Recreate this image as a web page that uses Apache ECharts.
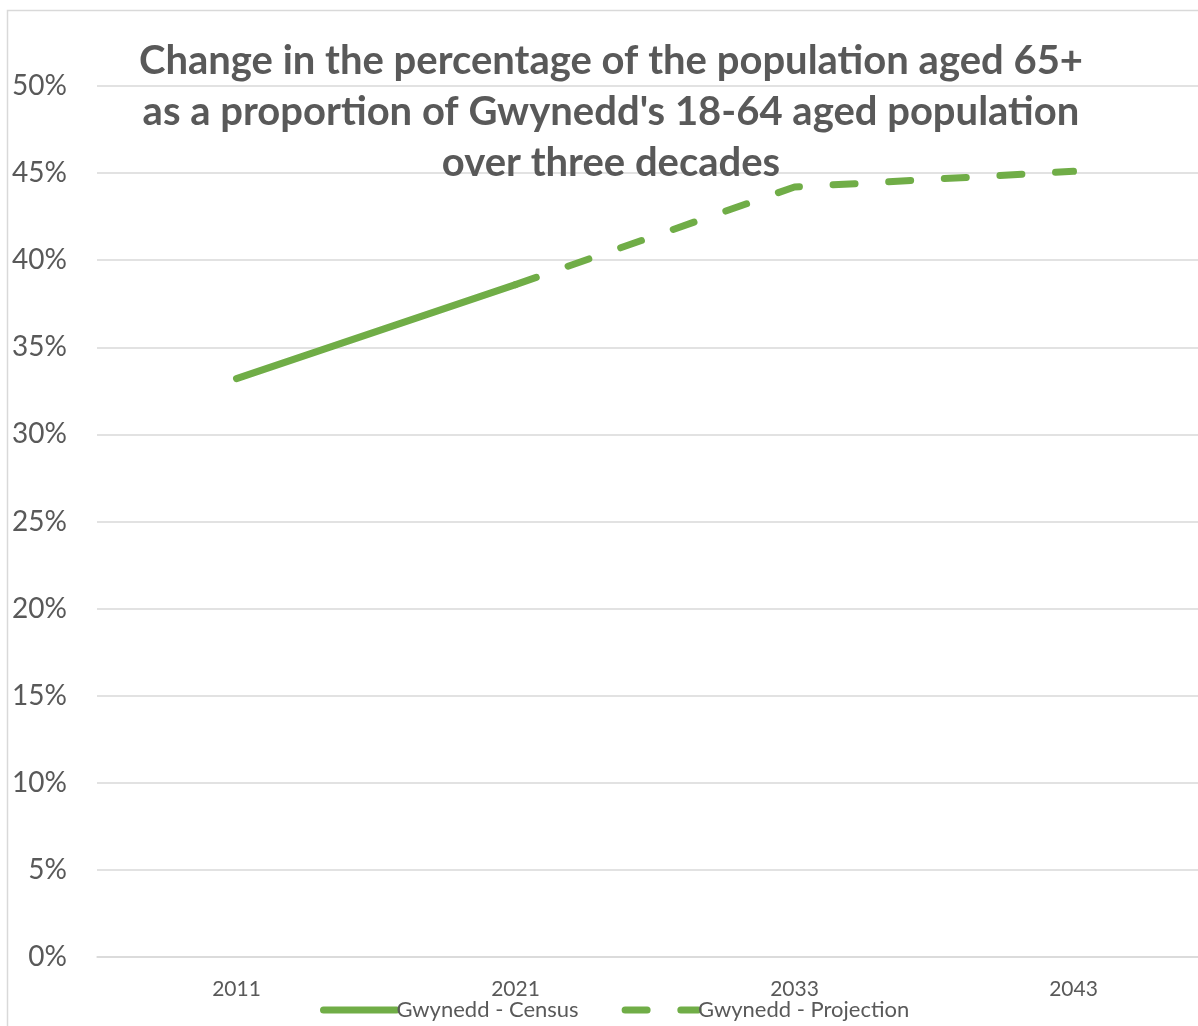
<!DOCTYPE html>
<html>
<head>
<meta charset="utf-8">
<style>
  html, body { margin: 0; padding: 0; background: #ffffff; }
  #chart { width: 1198px; height: 1026px; }
</style>
<script src="https://cdn.jsdelivr.net/npm/echarts@6/dist/echarts.min.js"></script>
</head>
<body>
<div id="chart"></div>
<script>
// Census years and projection years on the category axis
const categories = ['2011', '2021', '2033', '2043'];
// Population aged 65+ as % of the 18-64 population
const censusValues = [33.2, 38.6, null, null];
const projectionValues = [null, 38.6, 44.2, 45.1];
const seriesNames = ['Gwynedd - Census', 'Gwynedd - Projection'];
const titleText = "Change in the percentage of the population aged 65+\nas a proportion of Gwynedd's 18-64 aged population\nover three decades";

const GREEN = '#70AD47';
const TEXT = '#595959';
const FONT = 'Lato, "Open Sans", sans-serif';
const DASH = [22, 33.7];

const chart = echarts.init(document.getElementById('chart'), null, { renderer: 'canvas' });

chart.setOption({
  animation: false,
  backgroundColor: '#ffffff',
  textStyle: { fontFamily: FONT, color: TEXT },
  graphic: [{
    type: 'rect',
    z: -10,
    silent: true,
    shape: { x: 7.5, y: 10.5, width: 1400, height: 1200 },
    style: { fill: null, stroke: '#d9d9d9', lineWidth: 1.5 }
  }],
  title: {
    text: titleText,
    left: 606,
    top: 31,
    textAlign: 'center',
    textStyle: {
      fontFamily: FONT,
      fontSize: 40,
      fontWeight: 'bold',
      lineHeight: 51,
      color: TEXT
    }
  },
  legend: {
    left: 315,
    top: 994,
    itemWidth: 73,
    itemHeight: 14,
    itemGap: 43,
    // legend keys show only the line stroke (no marker)
    itemStyle: { opacity: 0, borderWidth: 0 },
    lineStyle: { width: 7, type: 'inherit', cap: 'round', color: GREEN, opacity: 1 },
    textStyle: { fontFamily: FONT, fontSize: 22, color: TEXT, padding: [0, 0, 0, -5] },
    data: seriesNames
  },
  grid: { left: 97, top: 86, right: -15, bottom: 69, outerBoundsMode: 'none' },
  xAxis: {
    type: 'category',
    data: categories,
    boundaryGap: true,
    axisLine: { show: true, lineStyle: { color: '#d9d9d9', width: 1.5 } },
    axisTick: { show: false },
    axisLabel: { fontFamily: FONT, fontSize: 21, color: TEXT, margin: 22 }
  },
  yAxis: {
    type: 'value',
    min: 0,
    max: 50,
    interval: 5,
    axisLine: { show: false },
    axisTick: { show: false },
    axisLabel: { fontFamily: FONT, fontSize: 28, color: TEXT, margin: 30, formatter: '{value}%' },
    splitLine: { lineStyle: { color: '#d9d9d9', width: 1.5 } }
  },
  series: [
    {
      name: seriesNames[0],
      type: 'line',
      data: censusValues,
      symbol: 'none',
      connectNulls: false,
      color: GREEN,
      lineStyle: { color: GREEN, width: 7, cap: 'round' }
    },
    {
      name: seriesNames[1],
      type: 'line',
      data: projectionValues,
      symbol: 'none',
      connectNulls: false,
      color: GREEN,
      lineStyle: { color: GREEN, width: 7, type: DASH, cap: 'round', join: 'round' }
    }
  ]
});
</script>
</body>
</html>
